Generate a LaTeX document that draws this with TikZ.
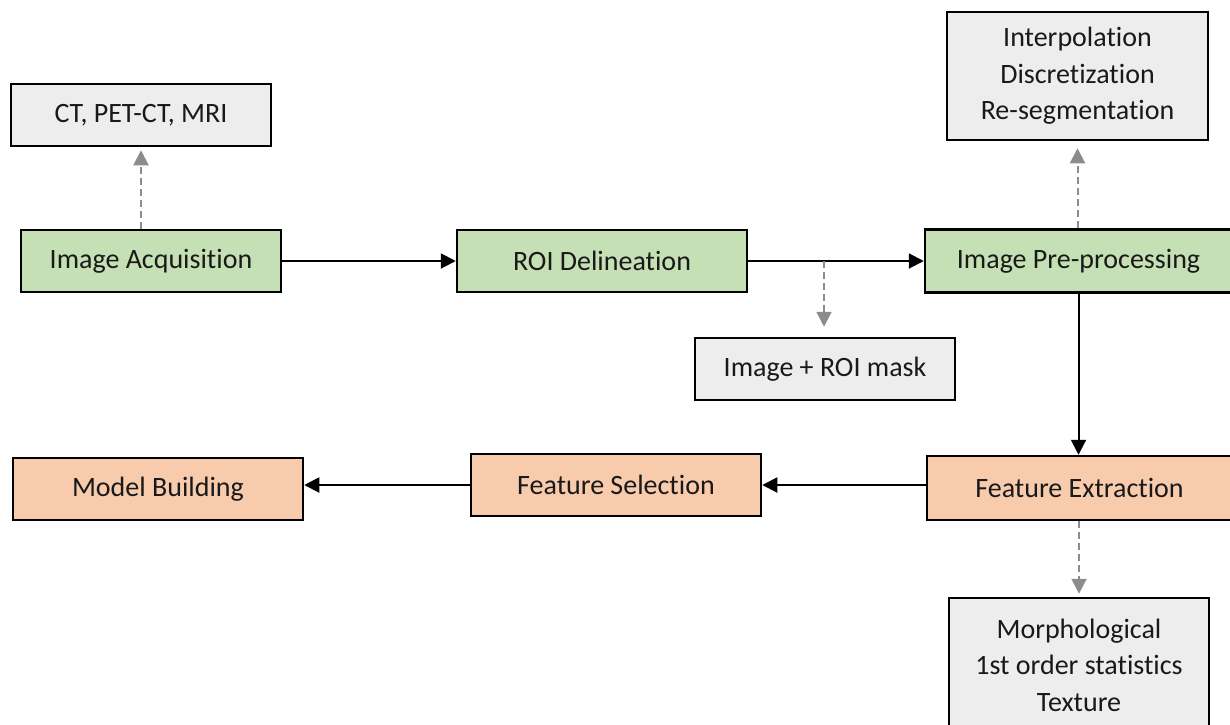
\documentclass[tikz,border=0pt]{standalone}
\usepackage{fontspec}
\setmainfont{Carlito}[Ligatures=NoCommon]
\usetikzlibrary{arrows.meta,calc}

\definecolor{stepgreen}{HTML}{C5E0B4}
\definecolor{steporange}{HTML}{F8CBAD}
\definecolor{notegray}{HTML}{EDEDED}
\definecolor{dashgray}{HTML}{8C8C8C}

\tikzset{
  box/.style={draw=black, line width=2.5pt, inner sep=0pt, align=center,
    font=\fontsize{28}{36.5}\selectfont, text=black!90},
  greenbox/.style={box, fill=stepgreen},
  orangebox/.style={box, fill=steporange},
  notebox/.style={box, fill=notegray},
  flow/.style={line width=2pt, -{Triangle[length=15pt,width=15pt]}},
  aside/.style={line width=2pt, draw=dashgray, dash pattern=on 7pt off 4pt,
    -{Triangle[length=15pt,width=15pt,color=dashgray,fill=dashgray]}}
}

\begin{document}
\begin{tikzpicture}[x=1pt, y=-1pt]
  \useasboundingbox (0,0) rectangle (1230,724);

  % main pipeline, first row
  \node[greenbox, minimum width=260pt, minimum height=62pt] (acq) at (151,261) {Image Acquisition};
  \node[greenbox, minimum width=290pt, minimum height=62pt] (roi) at (602,261) {ROI Delineation};
  \node[greenbox, minimum width=307pt, minimum height=63pt] (pre) at (1078.5,261) {Image Pre-processing};

  % main pipeline, second row
  \node[orangebox, minimum width=305pt, minimum height=64pt] (fext) at (1079.5,488) {Feature Extraction};
  \node[orangebox, minimum width=290pt, minimum height=62pt] (fsel) at (616,485) {Feature Selection};
  \node[orangebox, minimum width=290pt, minimum height=62pt] (model) at (158,489) {Model Building};

  % side notes
  \node[notebox, minimum width=260pt, minimum height=62pt] (modal) at (141,115) {CT, PET-CT, MRI};
  \node[notebox, minimum width=261pt, minimum height=128pt] (prep) at (1077.5,76) {Interpolation\\Discretization\\Re-segmentation};
  \node[notebox, minimum width=260pt, minimum height=62pt] (mask) at (825,369) {Image + ROI mask};
  \node[notebox, minimum width=260pt, minimum height=134pt] (feat) at (1079,665) {Morphological\\1st order statistics\\Texture};

  % solid flow arrows
  \draw[flow] (acq.east) -- (roi.west);
  \draw[flow] (roi.east) -- (pre.west);
  \draw[flow] (pre.south) -- (pre.south |- fext.north);
  \draw[flow] (fext.west |- fsel.east) -- (fsel.east);
  \draw[flow] (fsel.west) -- (fsel.west -| model.east);

  % dashed side arrows
  \coordinate (split) at (824,261);
  \draw[aside, shorten >=3pt] (acq.north -| modal.south) -- (modal.south);
  \draw[aside, shorten >=7pt] (pre.north -| prep.south) -- (prep.south);
  \draw[aside, shorten >=10pt] (split) -- (split |- mask.north);
  \draw[aside, shorten >=3pt] (fext.south -| feat.north) -- (feat.north);
\end{tikzpicture}
\end{document}
